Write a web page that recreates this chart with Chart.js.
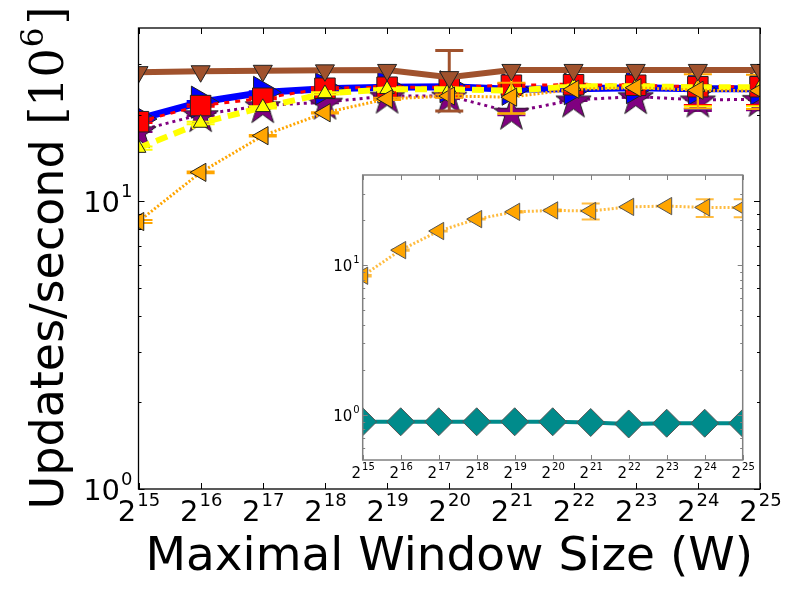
<!DOCTYPE html>
<html>
<head>
<meta charset="utf-8">
<script src="https://cdn.jsdelivr.net/npm/chart.js@4.4.1/dist/chart.umd.min.js"></script>
<style>
  body { margin: 0; background: #fff; }
  #wrap { position: relative; width: 800px; height: 600px; }
  #main { position: absolute; left: 0; top: 0; }
  #inset { position: absolute; left: 320px; top: 160px; }
</style>
</head>
<body>
<div id="wrap">
  <canvas id="main" width="800" height="600"></canvas>
  <canvas id="inset" width="440" height="330"></canvas>
</div>
<script>
// x positions are powers of two, kept as exponents (2^15 .. 2^25)
const exponents = [15, 16, 17, 18, 19, 20, 21, 22, 23, 24, 25];

// main plot, updates/second in millions
const brownVals  = [28.1, 28.3, 28.4, 28.5, 28.6, 27.0, 28.6, 28.6, 28.6, 28.6, 28.6];
const blueVals   = [19.3, 22.1, 23.9, 24.6, 24.9, 25.0, 24.5, 24.6, 24.8, 24.6, 24.6];
const redVals    = [18.9, 21.5, 22.8, 24.7, 24.9, 24.9, 25.3, 25.4, 25.3, 25.0, 25.0];
const purpleVals = [17.6, 20.0, 21.5, 22.1, 23.2, 23.2, 20.4, 22.5, 23.1, 22.5, 22.6];
const yellowVals = [15.3, 18.7, 21.2, 23.7, 24.5, 24.5, 24.2, 25.1, 25.1, 24.9, 24.9];
const orangeVals = [8.5, 12.6, 16.9, 20.3, 22.7, 23.2, 23.0, 24.5, 24.8, 24.3, 24.2];
// inset only
const tealVals   = [0.90, 0.90, 0.90, 0.90, 0.90, 0.90, 0.89, 0.87, 0.88, 0.88, 0.88];

// symmetric error bars
const brownErr  = [0, 0, 0, 0, 0, 6.4, 0, 0, 0, 0, 0];
const blueErr   = [0.2, 0.2, 0.2, 0.2, 0.2, 0.2, 0.3, 0.2, 0.2, 3.7, 3.7];
const redErr    = [0.2, 0.2, 0.2, 0.2, 0.2, 0.2, 0.3, 0.2, 0.2, 3.4, 3.4];
const purpleErr = [0.2, 0.2, 0.2, 0.2, 0.2, 0.2, 0.5, 0.2, 0.2, 1.9, 1.9];
const yellowErr = [0.2, 0.2, 0.2, 0.2, 0.2, 0.2, 4.0, 0.2, 0.2, 3.5, 3.5];
const orangeErr = [0.1, 0.1, 0.1, 0.1, 0.2, 0.3, 2.8, 0.0, 0.0, 3.3, 3.3];

// tick values
const yMajor = [1, 10];
const yMinor = [2, 3, 4, 5, 6, 7, 8, 9, 20, 30];
const insetYMinor = [0.6, 0.7, 0.8, 0.9, 2, 3, 4, 5, 6, 7, 8, 9, 20, 30];

const xTitle = 'Maximal Window Size (W)';
const yTitle = 'Updates/second ';

const pts = vals => vals.map((v, i) => ({ x: exponents[i], y: v }));

// filled five point star, used as a point image
function starMarker(R, fill) {
  const c = document.createElement('canvas');
  const s = Math.ceil(2 * R + 4);
  c.width = s; c.height = s;
  const g = c.getContext('2d');
  g.beginPath();
  for (let k = 0; k < 10; k++) {
    const r = k % 2 ? R * 0.382 : R;
    const a = -Math.PI / 2 + k * Math.PI / 5;
    g.lineTo(s / 2 + r * Math.cos(a), s / 2 + 2 + r * Math.sin(a));
  }
  g.closePath();
  g.fillStyle = fill;
  g.fill();
  g.strokeStyle = '#222';
  g.lineWidth = 1;
  g.stroke();
  return c;
}

function drawPow(ctx, base, exp, x, y, f, align) {
  ctx.font = f.baseFont;
  const wb = ctx.measureText(base).width;
  ctx.font = f.supFont;
  const we = ctx.measureText(exp).width;
  let x0 = align === 'center' ? x - (wb + we) / 2 : x - wb - we;
  ctx.textAlign = 'left';
  ctx.textBaseline = 'alphabetic';
  ctx.font = f.baseFont;
  ctx.fillText(base, x0, y);
  ctx.font = f.supFont;
  ctx.fillText(exp, x0 + wb + 1, y - f.raise);
}

const errorBars = {
  id: 'errorBars',
  beforeDatasetDraw(chart, args) {
    const ds = chart.data.datasets[args.index];
    if (!ds.errors) return;
    const { ctx, chartArea: a, scales: { x, y } } = chart;
    ctx.save();
    ctx.beginPath();
    ctx.rect(a.left, a.top, a.right - a.left, a.bottom - a.top);
    ctx.clip();
    ctx.strokeStyle = ds.borderColor;
    ctx.lineWidth = ds.errWidth || 2;
    ds.errors.forEach((e, i) => {
      if (!e) return;
      const px = x.getPixelForValue(ds.data[i].x);
      const top = y.getPixelForValue(ds.data[i].y + e);
      const bot = y.getPixelForValue(ds.data[i].y - e);
      const h = ds.capHalf;
      ctx.beginPath();
      ctx.moveTo(px, top); ctx.lineTo(px, bot);
      ctx.moveTo(px - h, top); ctx.lineTo(px + h, top);
      ctx.moveTo(px - h, bot); ctx.lineTo(px + h, bot);
      ctx.stroke();
    });
    ctx.restore();
  }
};

function axesPlugin(cfg) {
  return {
    id: 'axes',
    beforeDraw(chart) {
      const { ctx, chartArea: a } = chart;
      ctx.save();
      ctx.fillStyle = '#fff';
      ctx.fillRect(a.left, a.top, a.right - a.left, a.bottom - a.top);
      ctx.restore();
    },
    afterDraw(chart) {
      const { ctx, chartArea: a, scales: { x, y } } = chart;
      ctx.save();
      ctx.strokeStyle = cfg.color;
      ctx.lineWidth = 1;
      const seg = (x1, y1, x2, y2) => { ctx.beginPath(); ctx.moveTo(x1, y1); ctx.lineTo(x2, y2); ctx.stroke(); };
      exponents.forEach(e => {
        const px = Math.round(x.getPixelForValue(e)) + 0.5;
        seg(px, a.bottom, px, a.bottom - cfg.major);
        seg(px, a.top, px, a.top + cfg.major);
      });
      yMajor.forEach(v => {
        const py = Math.round(y.getPixelForValue(v)) + 0.5;
        seg(a.left, py, a.left + cfg.major, py);
        seg(a.right, py, a.right - cfg.major, py);
      });
      cfg.minor.forEach(v => {
        const py = Math.round(y.getPixelForValue(v)) + 0.5;
        seg(a.left, py, a.left + cfg.minorLen, py);
        seg(a.right, py, a.right - cfg.minorLen, py);
      });
      ctx.lineWidth = cfg.frameWidth;
      ctx.strokeRect(a.left, a.top, a.right - a.left, a.bottom - a.top);

      ctx.fillStyle = '#000';
      exponents.forEach(e => {
        drawPow(ctx, '2', String(e), x.getPixelForValue(e), a.bottom + cfg.xBase, cfg, 'center');
      });
      yMajor.forEach(v => {
        drawPow(ctx, '10', String(Math.round(Math.log10(v))), a.left - cfg.yGap,
          y.getPixelForValue(v) + cfg.yShift, cfg, 'right');
      });

      if (cfg.titles) {
        ctx.textBaseline = 'alphabetic';
        ctx.textAlign = 'center';
        ctx.font = '47px "DejaVu Sans"';
        ctx.fillText(xTitle, (a.left + a.right) / 2, 570);

        // rotated y title: sans text followed by a serif [10^6]
        const sans = '46px "DejaVu Sans"', serif = '46px "DejaVu Serif"', sup = '31px "DejaVu Serif"';
        ctx.font = sans; const w1 = ctx.measureText(yTitle).width;
        ctx.font = serif; const w2 = ctx.measureText('[10').width;
        ctx.font = sup; const w3 = ctx.measureText('6').width;
        ctx.font = serif; const w4 = ctx.measureText(']').width;
        const total = w1 + w2 + w3 + w4 + 4;
        ctx.translate(63, 258);
        ctx.rotate(-Math.PI / 2);
        ctx.textAlign = 'left';
        let s = -total / 2;
        ctx.font = sans; ctx.fillText(yTitle, s, 0); s += w1;
        ctx.font = serif; ctx.fillText('[10', s, 0); s += w2 + 1;
        ctx.font = sup; ctx.fillText('6', s, -20); s += w3 + 3;
        ctx.font = serif; ctx.fillText(']', s, 0);
      }
      ctx.restore();
    }
  };
}

function baseOptions(padding, yMin, yMax) {
  return {
    responsive: false,
    animation: false,
    devicePixelRatio: 1,
    layout: { padding: padding },
    plugins: { legend: { display: false }, tooltip: { enabled: false } },
    events: [],
    scales: {
      x: { type: 'linear', min: 15, max: 25, display: false },
      y: { type: 'logarithmic', min: yMin, max: yMax, display: false }
    }
  };
}

function series(vals, errs, color, extra) {
  return Object.assign({
    data: pts(vals),
    errors: errs,
    borderColor: color,
    pointBackgroundColor: color,
    pointBorderColor: '#222',
    pointBorderWidth: 1,
    borderCapStyle: 'butt',
    tension: 0,
    fill: false,
    clip: 0,
    capHalf: 14,
    errWidth: 2
  }, extra);
}

const mainChart = new Chart(document.getElementById('main'), {
  type: 'line',
  data: {
    datasets: [
      series(brownVals, brownErr, '#A0522D', { borderWidth: 6, pointStyle: 'triangle', pointRotation: 180, pointRadius: 11, order: 0, errWidth: 3 }),
      series(orangeVals, orangeErr, '#FFA500', { borderWidth: 3, borderDash: [2, 2], pointStyle: 'triangle', pointRotation: 270, pointRadius: 10.5, order: 1 }),
      series(yellowVals, yellowErr, '#FFFF00', { borderWidth: 6, borderDash: [12, 7], pointStyle: 'triangle', pointRadius: 8.5, order: 2 }),
      series(redVals, redErr, '#FF0000', { borderWidth: 3, borderDash: [5, 6], pointStyle: 'rect', pointRadius: 14.5, order: 3 }),
      series(blueVals, blueErr, '#0000FF', { borderWidth: 7, pointStyle: 'triangle', pointRotation: 90, pointRadius: 18.5, order: 4 }),
      series(purpleVals, purpleErr, '#800080', { borderWidth: 3, borderDash: [3, 4], pointStyle: starMarker(18.5, '#800080'), pointRadius: 18, order: 5 })
    ]
  },
  options: baseOptions({ left: 138.5, top: 28, right: 40, bottom: 111 }, 1, 40),
  plugins: [errorBars, axesPlugin({
    color: '#000', frameWidth: 1.3, major: 6, minorLen: 3, minor: yMinor,
    baseFont: '29px "DejaVu Sans"', supFont: '18px "DejaVu Sans"', raise: 15,
    xBase: 32, yGap: 7, yShift: 10.5, titles: true
  })]
});

const insetChart = new Chart(document.getElementById('inset'), {
  type: 'line',
  data: {
    datasets: [
      series(orangeVals, orangeErr, 'rgba(255,165,0,0.75)', { pointBackgroundColor: '#FFA500', pointBorderColor: '#555', borderWidth: 3, borderDash: [2, 2], pointStyle: 'triangle', pointRotation: 270, pointRadius: 10, capHalf: 9, order: 0 }),
      series(tealVals, null, '#008B8B', { pointBorderColor: '#555', borderWidth: 4, pointStyle: 'rectRot', pointRadius: 14, order: 1 })
    ]
  },
  options: baseOptions({ left: 42.7, top: 12, right: 17.3, bottom: 30 }, 0.5, 40),
  plugins: [errorBars, axesPlugin({
    color: '#808080', frameWidth: 1.5, major: 5, minorLen: 2.5, minor: insetYMinor,
    baseFont: '15px "DejaVu Sans"', supFont: '10px "DejaVu Sans"', raise: 8,
    xBase: 18, yGap: 4, yShift: 6, titles: false
  })]
});
</script>
</body>
</html>
